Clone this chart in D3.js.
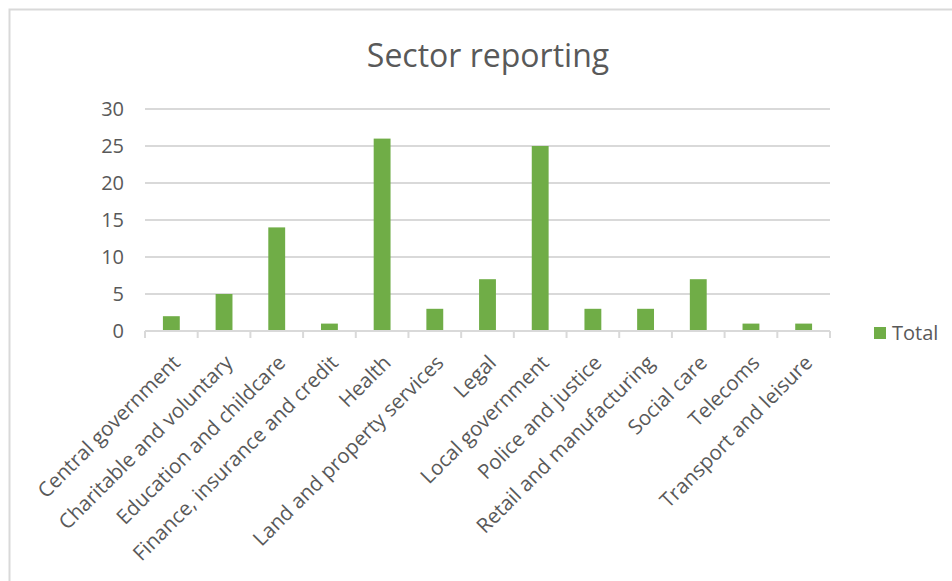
<!DOCTYPE html>
<html>
<head>
<meta charset="utf-8">
<script src="https://cdn.jsdelivr.net/npm/d3@7.9.0/dist/d3.min.js"></script>
<style>
  body { margin: 0; background: #fff; }
  svg { display: block; font-family: "Open Sans", sans-serif; }
</style>
</head>
<body>
<svg id="chart" width="952" height="581"></svg>
<script>
// chart data
const categories = [
    "Central government", "Charitable and voluntary", "Education and childcare",
    "Finance, insurance and credit", "Health", "Land and property services",
    "Legal", "Local government", "Police and justice", "Retail and manufacturing",
    "Social care", "Telecoms", "Transport and leisure"
];
const totals = [2, 5, 14, 1, 26, 3, 7, 25, 3, 3, 7, 1, 1];
const yTicks = [0, 5, 10, 15, 20, 25, 30];
const seriesName = "Total";
const title = "Sector reporting";

const svg = d3.select("#chart");
const textColor = "#595959";
const gridColor = "#d9d9d9";
const barColor = "#70ad47";

// outer chart border (only top and left show in the frame)
svg.append("rect")
    .attr("x", 9.5).attr("y", 9.5)
    .attr("width", 1000).attr("height", 1000)
    .attr("fill", "none").attr("stroke", gridColor).attr("stroke-width", 2);

const plotLeft = 145, plotRight = 830, plotTop = 109, plotBottom = 331;

let x = d3.scaleBand().domain(categories).range([plotLeft, plotRight]).paddingInner(0).paddingOuter(0);
let y = d3.scaleLinear().domain([0, 30]).range([plotBottom, plotTop]);

// gridlines
svg.append("g").selectAll("line").data(yTicks.filter(d => d > 0)).join("line")
    .attr("x1", plotLeft).attr("x2", plotRight)
    .attr("y1", d => y(d)).attr("y2", d => y(d))
    .attr("stroke", gridColor).attr("stroke-width", 2);

// y tick labels
svg.append("g").selectAll("text").data(yTicks).join("text")
    .attr("x", 124).attr("y", d => y(d))
    .attr("dy", "0.35em")
    .attr("text-anchor", "end")
    .attr("fill", textColor)
    .style("font-size", "20px")
    .text(d => d);

// bars
const barW = x.bandwidth() * 0.32;
svg.append("g").selectAll("rect").data(categories).join("rect")
    .attr("x", d => x(d) + x.bandwidth() / 2 - barW / 2)
    .attr("y", (d, i) => y(totals[i]))
    .attr("width", barW)
    .attr("height", (d, i) => y(0) - y(totals[i]))
    .attr("fill", barColor);

// x axis line + ticks
const xAxis = svg.append("g");
xAxis.append("line")
    .attr("x1", plotLeft).attr("x2", plotRight)
    .attr("y1", plotBottom).attr("y2", plotBottom)
    .attr("stroke", gridColor).attr("stroke-width", 2);
const tickPos = categories.map(c => x(c)).concat([plotRight]);
xAxis.selectAll("line.tick").data(tickPos).join("line")
    .attr("class", "tick")
    .attr("x1", d => d).attr("x2", d => d)
    .attr("y1", plotBottom).attr("y2", plotBottom + 7)
    .attr("stroke", gridColor).attr("stroke-width", 2);

// rotated category labels
svg.append("g").selectAll("text").data(categories).join("text")
    .attr("transform", d => `translate(${x(d) + x.bandwidth() / 2 + 10},${plotBottom + 33}) rotate(-45)`)
    .attr("text-anchor", "end")
    .attr("fill", textColor)
    .style("font-size", "20.5px")
    .text(d => d);

// title
svg.append("text")
    .attr("x", 488).attr("y", 67)
    .attr("text-anchor", "middle")
    .attr("fill", textColor)
    .style("font-size", "32px")
    .text(title);

// legend
svg.append("rect")
    .attr("x", 874).attr("y", 327)
    .attr("width", 12).attr("height", 12)
    .attr("fill", barColor);
svg.append("text")
    .attr("x", 892).attr("y", 340)
    .attr("fill", textColor)
    .style("font-size", "20px")
    .text(seriesName);
</script>
</body>
</html>
